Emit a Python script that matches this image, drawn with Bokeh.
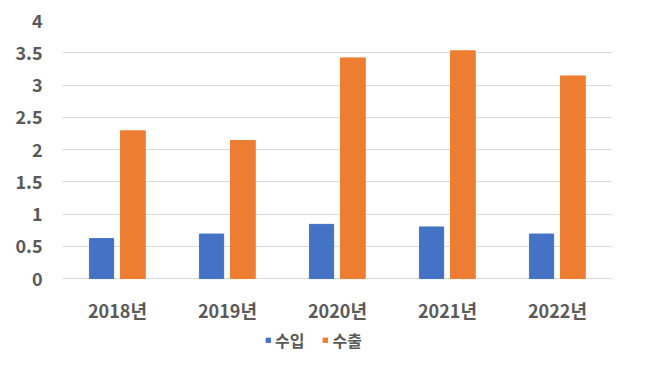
from bokeh.plotting import figure
from bokeh.models import FactorRange, Range1d, FixedTicker, NumeralTickFormatter, Legend, LegendItem, ColumnDataSource
from bokeh.core.properties import value
from bokeh.transform import dodge
from bokeh.embed import file_html
from bokeh.resources import INLINE

years = ["2018년", "2019년", "2020년", "2021년", "2022년"]
imports = [0.62, 0.69, 0.84, 0.80, 0.69]
exports = [2.29, 2.14, 3.42, 3.53, 3.14]
series_names = ["수입", "수출"]
y_ticks = [0, 0.5, 1, 1.5, 2, 2.5, 3, 3.5, 4]

FONT = "Noto Sans CJK KR"
TXT = "#595959"

src = ColumnDataSource(dict(year=years, imp=imports, exp=exports))

p = figure(width=650, height=366, output_backend="svg", toolbar_location=None,
           x_range=FactorRange(*years, range_padding=0), y_range=Range1d(-1.27, 4),
           min_border_left=62, min_border_right=38, min_border_top=20, min_border_bottom=6)
p.outline_line_color = None
p.xgrid.grid_line_color = None
p.ygrid.grid_line_color = "#D9D9D9"
p.ygrid.grid_line_width = 1
p.xaxis.visible = False

r1 = p.vbar(x=dodge("year", -0.145, range=p.x_range), top="imp", bottom=0, width=0.22, source=src,
            fill_color="#4472C4", line_color="#4472C4")
r2 = p.vbar(x=dodge("year", 0.14, range=p.x_range), top="exp", bottom=0, width=0.225, source=src,
            fill_color="#ED7D31", line_color="#ED7D31")

# category labels under the bars
p.text(x="year", y=0, text="year", source=src, y_offset=31,
       text_align="center", text_baseline="middle",
       text_font=value(FONT), text_font_size="18px", text_font_style="bold", text_color=TXT)

ax = p.yaxis[0]
ax.ticker = FixedTicker(ticks=y_ticks)
ax.formatter = NumeralTickFormatter(format="0.[0]")
ax.axis_line_color = None
ax.major_tick_line_color = None
ax.minor_tick_line_color = None
ax.major_label_text_font = FONT
ax.major_label_text_color = TXT
ax.major_label_text_font_style = "bold"
ax.major_label_text_font_size = "18px"
ax.major_label_standoff = 14

legend = Legend(items=[LegendItem(label=series_names[0], renderers=[r1]),
                       LegendItem(label=series_names[1], renderers=[r2])],
                orientation="horizontal", location=(203, 8),
                label_text_font=FONT, label_text_font_size="16px", label_text_color=TXT,
                label_text_font_style="bold",
                glyph_width=6, glyph_height=6, label_standoff=4, spacing=18,
                border_line_color=None, background_fill_alpha=0, padding=0, margin=0)
p.add_layout(legend, "center")

open("out.html", "w").write(file_html(p, INLINE))
